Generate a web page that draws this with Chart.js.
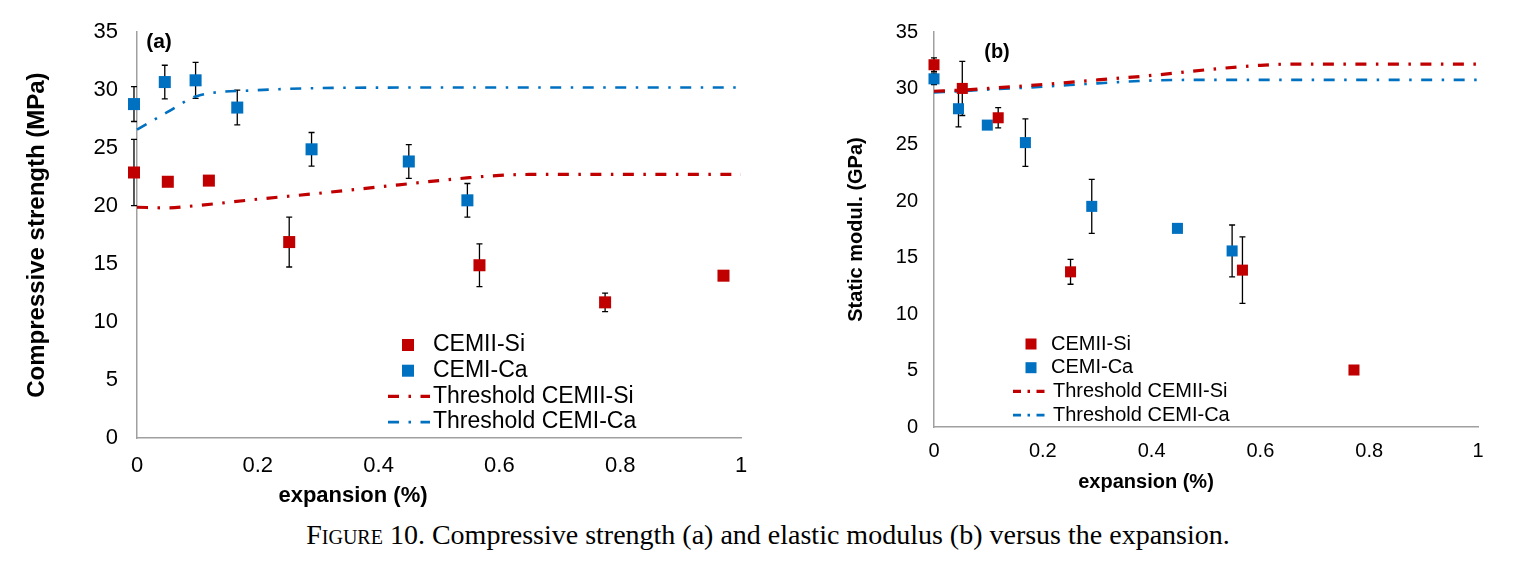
<!DOCTYPE html>
<html>
<head>
<meta charset="utf-8">
<title>Compressive strength and elastic modulus versus expansion</title>
<script src="https://cdn.jsdelivr.net/npm/chart.js@4.4.1/dist/chart.umd.min.js"></script>
<style>
  html, body { margin: 0; padding: 0; background: #fff; }
  #page { position: relative; width: 1514px; height: 571px; overflow: hidden; background: #fff; }
  .panel { position: absolute; top: 0; height: 515px; }
  #panelA { left: 0; width: 780px; }
  #panelB { left: 800px; width: 714px; }
  #caption {
    position: absolute; left: 0; width: 1536px; top: 517px;
    text-align: center; color: #000; line-height: 36px;
    font-family: 'Liberation Serif', 'Times New Roman', serif; font-size: 28px;
  }
  #caption .sc { font-variant: small-caps; }
</style>
</head>
<body>
<div id="page">
  <div class="panel" id="panelA"><canvas id="chartA"></canvas></div>
  <div class="panel" id="panelB"><canvas id="chartB"></canvas></div>
  <div id="caption"><span class="sc">Figure</span> 10. Compressive strength (a) and elastic modulus (b) versus the expansion.</div>
</div>
<script>
const RED = '#C00000';
const BLUE = '#0070C0';
const AXIS = '#a0a0a0';
const DASH_DOT = [11, 9.5, 2.5, 9.5];

// shared tick values
const xTicks = [0, 0.2, 0.4, 0.6, 0.8, 1];
const yTicks = [0, 5, 10, 15, 20, 25, 30, 35];

// ---- (a) compressive strength (MPa) ----
const expSiA = [-0.005, 0.051, 0.119, 0.252, 0.567, 0.775, 0.971];
const strengthSi = [22.9, 22.1, 22.2, 16.9, 14.9, 11.7, 14.0];
const strengthSiErr = [2.85, 0.4, 0.4, 2.15, 1.85, 0.8, 0];

const expCaA = [-0.005, 0.046, 0.097, 0.166, 0.289, 0.45, 0.547];
const strengthCa = [28.8, 30.7, 30.85, 28.5, 24.9, 23.85, 20.5];
const strengthCaErr = [1.5, 1.45, 1.55, 1.5, 1.45, 1.45, 1.45];

const thrExpA = [0, 0.05, 0.1, 0.2, 0.3, 0.4, 0.5, 0.55, 0.6, 0.65, 0.8, 1];
const thrStrengthSi = [19.9, 19.85, 20.05, 20.6, 21.1, 21.65, 22.2, 22.45, 22.65, 22.73, 22.73, 22.73];
const thrStrengthCa = [26.6, 28.1, 29.5, 30.0, 30.18, 30.22, 30.23, 30.23, 30.23, 30.23, 30.23, 30.23];

// ---- (b) static modulus (GPa) ----
const expSiB = [0, 0.052, 0.118, 0.251, 0.567, 0.772];
const modulusSi = [32.1, 30.0, 27.4, 13.75, 13.9, 5.05];
const modulusSiErr = [0.6, 2.4, 0.9, 1.1, 2.95, 0];

const expCaB = [0, 0.045, 0.098, 0.168, 0.29, 0.4475, 0.548];
const modulusCa = [30.85, 28.2, 26.75, 25.2, 19.55, 17.6, 15.6];
const modulusCaErr = [0.5, 1.6, 0, 2.1, 2.4, 0, 2.3];

const thrExpB = [0, 0.05, 0.1, 0.2, 0.3, 0.4, 0.5, 0.6, 0.65, 0.8, 1];
const thrModulusSi = [29.75, 29.85, 30.0, 30.35, 30.75, 31.15, 31.65, 32.05, 32.15, 32.15, 32.15];
const thrModulusCa = [29.65, 29.75, 29.9, 30.15, 30.45, 30.7, 30.76, 30.76, 30.76, 30.76, 30.76];

const legendLabels = ['CEMII-Si', 'CEMI-Ca', 'Threshold CEMII-Si', 'Threshold CEMI-Ca'];

Chart.defaults.font.family = "'Liberation Sans', Arial, sans-serif";
Chart.defaults.color = '#000';

// black error bars, drawn under the markers
const errorBarsPlugin = {
  id: 'errorBars',
  beforeDatasetsDraw(chart) {
    const ctx = chart.ctx;
    const yScale = chart.scales.y;
    ctx.save();
    ctx.strokeStyle = '#000';
    ctx.lineWidth = 1.3;
    chart.data.datasets.forEach((ds, i) => {
      if (!ds.errors) return;
      const meta = chart.getDatasetMeta(i);
      meta.data.forEach((pt, j) => {
        const e = ds.errors[j];
        if (!e) return;
        const v = ds.data[j].y;
        const top = yScale.getPixelForValue(v + e);
        const bot = yScale.getPixelForValue(v - e);
        ctx.beginPath();
        ctx.moveTo(pt.x, top); ctx.lineTo(pt.x, bot);
        ctx.moveTo(pt.x - 3, top); ctx.lineTo(pt.x + 3, top);
        ctx.moveTo(pt.x - 3, bot); ctx.lineTo(pt.x + 3, bot);
        ctx.stroke();
      });
    });
    ctx.restore();
  }
};

// legend placed inside the plot, like the Excel one
const innerLegendPlugin = {
  id: 'innerLegend',
  afterDraw(chart, args, opts) {
    const ctx = chart.ctx;
    ctx.save();
    ctx.font = opts.font;
    ctx.textBaseline = 'middle';
    ctx.textAlign = 'left';
    chart.data.datasets.forEach((ds, i) => {
      const y = opts.top + i * opts.rowHeight;
      if (ds.showLine) {
        ctx.strokeStyle = ds.borderColor;
        ctx.lineWidth = ds.borderWidth;
        ctx.setLineDash(opts.dash || ds.borderDash);
        ctx.beginPath();
        ctx.moveTo(opts.lineStart, y);
        ctx.lineTo(opts.lineEnd, y);
        ctx.stroke();
        ctx.setLineDash([]);
      } else {
        const s = opts.markerSize;
        ctx.fillStyle = ds.backgroundColor;
        ctx.fillRect(opts.markerX - s / 2, y - s / 2, s, s);
      }
      ctx.fillStyle = '#000';
      ctx.fillText(ds.label, ds.showLine ? opts.lineTextX : opts.textX, y);
    });
    ctx.restore();
  }
};

// panel letter and x axis title
const freeTextPlugin = {
  id: 'freeText',
  afterDraw(chart, args, opts) {
    const ctx = chart.ctx;
    ctx.save();
    ctx.textAlign = 'center';
    ctx.textBaseline = 'middle';
    ctx.fillStyle = '#000';
    (opts.items || []).forEach(it => {
      ctx.font = it.font;
      ctx.fillText(it.text, it.x, it.y);
    });
    ctx.restore();
  }
};

function pointSet(label, xs, ys, errs, color, radius) {
  return {
    label: label,
    data: xs.map((x, i) => ({ x: x, y: ys[i] })),
    errors: errs,
    backgroundColor: color,
    borderColor: color,
    borderWidth: 0,
    pointStyle: 'rect',
    pointRadius: radius,
    pointHoverRadius: radius,
    showLine: false,
    clip: false
  };
}

function thresholdSet(label, xs, ys, color, width) {
  return {
    label: label,
    data: xs.map((x, i) => ({ x: x, y: ys[i] })),
    borderColor: color,
    backgroundColor: color,
    borderWidth: width,
    borderDash: DASH_DOT,
    borderCapStyle: 'butt',
    pointRadius: 0,
    showLine: true,
    cubicInterpolationMode: 'monotone',
    fill: false,
    clip: false
  };
}

function makePanel(canvasId, p) {
  return new Chart(document.getElementById(canvasId), {
    type: 'scatter',
    data: { datasets: p.datasets },
    plugins: [errorBarsPlugin, innerLegendPlugin, freeTextPlugin],
    options: {
      responsive: true,
      maintainAspectRatio: false,
      animation: false,
      events: [],
      layout: { padding: { left: 0, right: p.padRight, top: 32, bottom: 0 } },
      plugins: {
        legend: { display: false },
        tooltip: { enabled: false },
        innerLegend: p.legend,
        freeText: { items: p.texts }
      },
      scales: {
        x: {
          type: 'linear', min: 0, max: 1,
          grid: { display: false, drawTicks: false },
          border: { display: true, color: AXIS, width: 1.5 },
          ticks: {
            font: { size: p.tickSize }, padding: p.xTickPad, maxRotation: 0,
            callback: v => String(Math.round(v * 10) / 10)
          },
          afterBuildTicks: s => { s.ticks = xTicks.map(v => ({ value: v })); },
          afterFit: s => { s.height = p.xAxisHeight; }
        },
        y: {
          type: 'linear', min: 0, max: 35,
          grid: { display: false, drawTicks: false },
          border: { display: true, color: AXIS, width: 1.5 },
          ticks: { font: { size: p.tickSize }, padding: p.yTickPad },
          afterBuildTicks: s => { s.ticks = yTicks.map(v => ({ value: v })); },
          afterFit: s => { s.width = p.yAxisWidth; },
          title: {
            display: true, text: p.yTitle,
            font: { size: p.yTitleSize, weight: 'bold' },
            padding: { top: p.yTitlePad, bottom: 0 }
          }
        }
      }
    }
  });
}

makePanel('chartA', {
  datasets: [
    pointSet(legendLabels[0], expSiA, strengthSi, strengthSiErr, RED, 8.5),
    pointSet(legendLabels[1], expCaA, strengthCa, strengthCaErr, BLUE, 8.5),
    thresholdSet(legendLabels[2], thrExpA, thrStrengthSi, RED, 3.2),
    thresholdSet(legendLabels[3], thrExpA, thrStrengthCa, BLUE, 2.6)
  ],
  padRight: 39,
  xAxisHeight: 77,
  yAxisWidth: 137,
  tickSize: 22,
  xTickPad: 15,
  yTickPad: 19,
  yTitle: 'Compressive strength (MPa)',
  yTitleSize: 24,
  yTitlePad: 23,
  legend: {
    font: "23px 'Liberation Sans', Arial, sans-serif",
    top: 345, rowHeight: 25.7,
    markerX: 408, markerSize: 12, textX: 433,
    lineStart: 388, lineEnd: 430, lineTextX: 433
  },
  texts: [
    { text: '(a)', x: 159, y: 42, font: "bold 21px 'Liberation Sans', Arial, sans-serif" },
    { text: 'expansion (%)', x: 353, y: 496, font: "bold 22px 'Liberation Sans', Arial, sans-serif" }
  ]
});

makePanel('chartB', {
  datasets: [
    pointSet(legendLabels[0], expSiB, modulusSi, modulusSiErr, RED, 7.8),
    pointSet(legendLabels[1], expCaB, modulusCa, modulusCaErr, BLUE, 7.8),
    thresholdSet(legendLabels[2], thrExpB, thrModulusSi, RED, 3.2),
    thresholdSet(legendLabels[3], thrExpB, thrModulusCa, BLUE, 2.6)
  ],
  padRight: 36,
  xAxisHeight: 88,
  yAxisWidth: 134,
  tickSize: 20,
  xTickPad: 12,
  yTickPad: 16,
  yTitle: 'Static modul. (GPa)',
  yTitleSize: 20,
  yTitlePad: 44,
  legend: {
    font: "20px 'Liberation Sans', Arial, sans-serif",
    top: 344, rowHeight: 23.7,
    markerX: 231, markerSize: 11, textX: 251,
    lineStart: 213, lineEnd: 248, lineTextX: 253,
    dash: [8, 6.5, 2.5, 6.5]
  },
  texts: [
    { text: '(b)', x: 197, y: 52, font: "bold 20px 'Liberation Sans', Arial, sans-serif" },
    { text: 'expansion (%)', x: 346, y: 482, font: "bold 20px 'Liberation Sans', Arial, sans-serif" }
  ]
});
</script>
</body>
</html>
